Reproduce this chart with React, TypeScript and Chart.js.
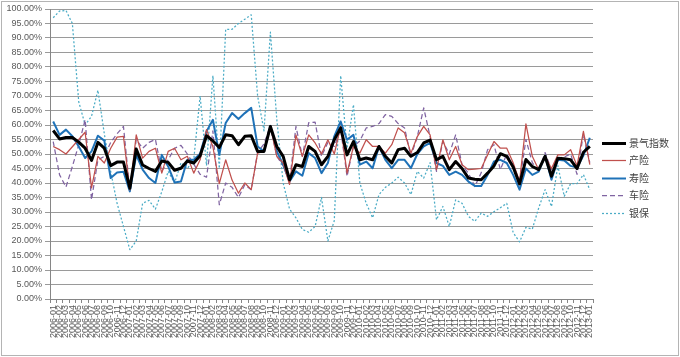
import React, { useEffect, useRef } from "react";
import { Chart, registerables } from "chart.js";

Chart.register(...registerables);

const years: number[] = [2006, 2007, 2008, 2009, 2010, 2011, 2012, 2013];
const monthCodes: string[] = ["01", "02", "03", "04", "05", "06", "07", "08", "09", "10", "11", "12"];
const lastLabel = "2013-01";

const categories: string[] = [];
for (const y of years) {
  for (const m of monthCodes) {
    const s = `${y}-${m}`;
    if (categories.length === 0 || categories[categories.length - 1] !== lastLabel) categories.push(s);
  }
}

const yTickValues: number[] = [0, 5, 10, 15, 20, 25, 30, 35, 40, 45, 50, 55, 60, 65, 70, 75, 80, 85, 90, 95, 100];

const seriesNames: string[] = ["景气指数", "产险", "寿险", "车险", "银保"];

const jingqi: number[] = [
  58.1, 55.2, 55.7, 55.7, 54.1, 52.0, 47.8, 54.0, 52.0, 46.0,
  47.2, 47.2, 38.2, 51.7, 46.2, 45.0, 44.0, 47.6, 47.1, 44.4,
  45.1, 47.6, 46.9, 49.4, 56.3, 54.5, 52.3, 56.6, 56.3, 53.2,
  56.1, 56.3, 50.9, 50.9, 59.5, 52.6, 49.2, 41.1, 46.3, 45.7,
  52.6, 50.9, 46.3, 49.2, 54.9, 59.0, 49.7, 54.3, 48.0, 48.6,
  48.0, 52.6, 49.2, 46.9, 51.5, 52.0, 49.2, 50.5, 53.8, 54.8,
  48.0, 49.2, 44.6, 47.4, 45.0, 41.7, 41.3, 41.1, 43.4, 45.9,
  50.1, 49.2, 45.5, 39.7, 48.1, 45.7, 44.6, 49.2, 42.3, 48.5,
  48.4, 48.0, 45.0, 50.6, 52.6,
];

const chanxian: number[] = [
  52.6, 51.5, 50.0, 52.5, 55.0, 57.5, 38.3, 49.2, 46.9, 52.0,
  55.8, 56.1, 37.6, 56.6, 48.6, 50.9, 52.0, 43.4, 50.9, 52.0,
  48.0, 49.2, 43.4, 48.0, 58.4, 52.5, 39.8, 48.0, 41.0, 36.5,
  40.0, 37.7, 50.3, 50.9, 59.5, 49.2, 46.9, 39.5, 56.6, 49.2,
  56.6, 53.8, 50.0, 54.9, 50.0, 59.5, 43.4, 52.6, 50.3, 54.9,
  52.6, 52.6, 50.3, 53.2, 59.0, 57.3, 50.3, 56.0, 59.5, 56.6,
  44.6, 54.9, 48.0, 52.6, 46.3, 44.6, 44.8, 45.0, 49.7, 54.3,
  52.0, 52.0, 47.0, 40.5, 60.4, 49.2, 44.6, 49.2, 45.0, 49.7,
  49.7, 51.5, 45.9, 57.8, 46.3,
];

const shouxian: number[] = [
  61.2, 56.6, 58.4, 56.1, 52.6, 48.6, 50.9, 56.3, 54.6, 41.7,
  43.6, 43.9, 37.1, 49.7, 44.6, 41.7, 40.0, 49.7, 45.7, 40.2,
  40.5, 48.0, 48.0, 50.1, 57.8, 61.8, 49.7, 60.7, 64.1, 62.1,
  64.1, 65.9, 52.6, 50.9, 59.7, 50.9, 46.3, 40.5, 44.0, 42.5,
  50.3, 48.6, 43.4, 46.9, 56.1, 61.2, 54.9, 56.6, 46.3, 47.4,
  45.1, 52.6, 48.0, 45.1, 48.0, 48.0, 45.1, 50.0, 52.6, 53.8,
  46.9, 45.9, 42.8, 43.9, 42.8, 40.5, 39.0, 39.0, 42.8, 47.4,
  48.0, 46.9, 42.8, 37.7, 45.0, 42.8, 43.9, 49.4, 41.1, 48.0,
  47.8, 45.9, 45.3, 49.5, 55.6,
];

const chexian: number[] = [
  54.3, 42.8, 38.6, 45.7, 53.2, 61.8, 34.2, 48.0, 49.2, 54.0,
  57.0, 59.5, 37.5, 55.0, 52.0, 54.0, 55.0, 44.0, 48.0, 52.0,
  53.0, 50.0, 46.5, 43.0, 42.0, 58.0, 32.5, 40.0, 38.5, 35.0,
  39.4, 37.7, 50.5, 53.5, 59.7, 49.2, 46.0, 40.5, 59.5, 49.2,
  60.8, 61.0, 49.2, 54.0, 52.6, 58.5, 42.3, 52.6, 54.5, 59.0,
  59.5, 60.5, 63.6, 63.0, 60.5, 59.0, 49.2, 56.0, 65.9, 56.0,
  44.0, 54.3, 50.0, 56.6, 46.3, 43.4, 38.8, 43.5, 51.5, 53.2,
  44.6, 50.0, 46.0, 40.0, 55.0, 47.0, 44.0, 50.5, 44.5, 48.5,
  49.0, 50.0, 43.0, 57.0, 47.0,
];

const yinbao: number[] = [
  97, 99.3, 99.5, 95, 68, 60, 63, 72, 57, 44,
  33, 25, 17, 20, 33, 34, 31, 37, 44, 40,
  47, 45, 48, 70, 46, 77, 45, 93, 93, 95,
  96.5, 98, 70, 58, 92, 62, 40, 31, 28, 24,
  23, 25, 35, 20, 27, 77, 52, 67, 40, 33,
  28, 36, 38.5, 40, 42, 40, 36, 44, 41.7, 47,
  27.3, 31.9, 25, 34.2, 33, 28.5, 26.8, 29.6, 28.5, 30.1,
  31.5, 33, 22.9, 19.7, 24.7, 24.1, 31.4, 37.7, 31.9, 46,
  35.4, 39.8, 39.8, 42.9, 37.7,
];

const AXIS_FONT = '"Liberation Sans", Arial, sans-serif';

const sideLegend = {
  id: "sideLegend",
  afterDraw(chart: any) {
    const ctx = chart.ctx as CanvasRenderingContext2D;
    const area = chart.chartArea;
    const x0 = area.right + 9;
    const step = 17.5;
    const n = chart.data.datasets.length;
    const yc = chart.height / 2 - 1;
    chart.data.datasets.forEach((ds: any, i: number) => {
      const y = Math.round(yc + (i - (n - 1) / 2) * step) + 0.5;
      ctx.save();
      ctx.strokeStyle = ds.borderColor;
      ctx.lineWidth = ds.borderWidth;
      ctx.setLineDash(ds.borderDash || []);
      ctx.beginPath();
      ctx.moveTo(x0, y);
      ctx.lineTo(x0 + 24, y);
      ctx.stroke();
      ctx.setLineDash([]);
      ctx.fillStyle = "#404040";
      ctx.font = '10px "Noto Sans CJK SC", sans-serif';
      ctx.textBaseline = "middle";
      ctx.textAlign = "left";
      ctx.fillText(ds.label, x0 + 27, y);
      ctx.restore();
    });
  },
};

const frame = {
  id: "frame",
  beforeDraw(chart: any) {
    const ctx = chart.ctx as CanvasRenderingContext2D;
    ctx.save();
    ctx.fillStyle = "#ffffff";
    ctx.fillRect(0, 0, chart.width, chart.height);
    ctx.restore();
  },
  afterDraw(chart: any) {
    const ctx = chart.ctx as CanvasRenderingContext2D;
    ctx.save();
    ctx.strokeStyle = "#b4b4b4";
    ctx.lineWidth = 1;
    ctx.strokeRect(1.5, 1.5, chart.width - 3, chart.height - 3);
    ctx.restore();
  },
};

export default function App() {
  const ref = useRef<HTMLCanvasElement>(null);
  useEffect(() => {
    if (!ref.current) return;
    const chart = new Chart(ref.current, {
      type: "line",
      data: {
        labels: categories,
        datasets: [
          { label: seriesNames[0], data: jingqi, borderColor: "#000000", borderWidth: 3 },
          { label: seriesNames[1], data: chanxian, borderColor: "#C0504D", borderWidth: 1.25 },
          { label: seriesNames[2], data: shouxian, borderColor: "#1F72B8", borderWidth: 2 },
          { label: seriesNames[3], data: chexian, borderColor: "#8064A2", borderWidth: 1.25, borderDash: [5, 3] },
          { label: seriesNames[4], data: yinbao, borderColor: "#4BACC6", borderWidth: 1.25, borderDash: [2, 2] },
        ] as any,
      },
      options: {
        responsive: false,
        animation: false,
        devicePixelRatio: 1,
        layout: { padding: { left: 0, right: 87, top: 9, bottom: 0 } },
        elements: { point: { radius: 0 }, line: { tension: 0, borderJoinStyle: "round" } },
        plugins: { legend: { display: false }, tooltip: { enabled: false } },
        scales: {
          x: {
            type: "category",
            offset: true,
            grid: { offset: true, drawOnChartArea: false, drawTicks: true, tickLength: 4, color: "#868686" },
            border: { display: true, color: "#868686" },
            ticks: {
              autoSkip: false,
              minRotation: 90,
              maxRotation: 90,
              padding: 2,
              color: "#595959",
              font: { family: AXIS_FONT, size: 9 },
            },
            afterFit: (s: any) => {
              s.height = 58;
            },
          },
          y: {
            min: 0,
            max: 100,
            afterBuildTicks: (s: any) => {
              s.ticks = yTickValues.map((v) => ({ value: v }));
            },
            ticks: {
              padding: 3,
              color: "#595959",
              font: { family: AXIS_FONT, size: 9 },
              callback: (v: any) => Number(v).toFixed(2) + "%",
            },
            grid: { color: "#9a9a9a", lineWidth: 1, tickLength: 5 },
            border: { display: true, color: "#868686" },
            afterFit: (s: any) => {
              s.width = 50;
            },
          },
        },
      } as any,
      plugins: [frame, sideLegend],
    });
    return () => chart.destroy();
  }, []);
  return (
    <canvas
      ref={ref}
      width={680}
      height={357}
      style={{ position: "fixed", left: 0, top: 0, width: 680, height: 357, display: "block" }}
    />
  );
}
